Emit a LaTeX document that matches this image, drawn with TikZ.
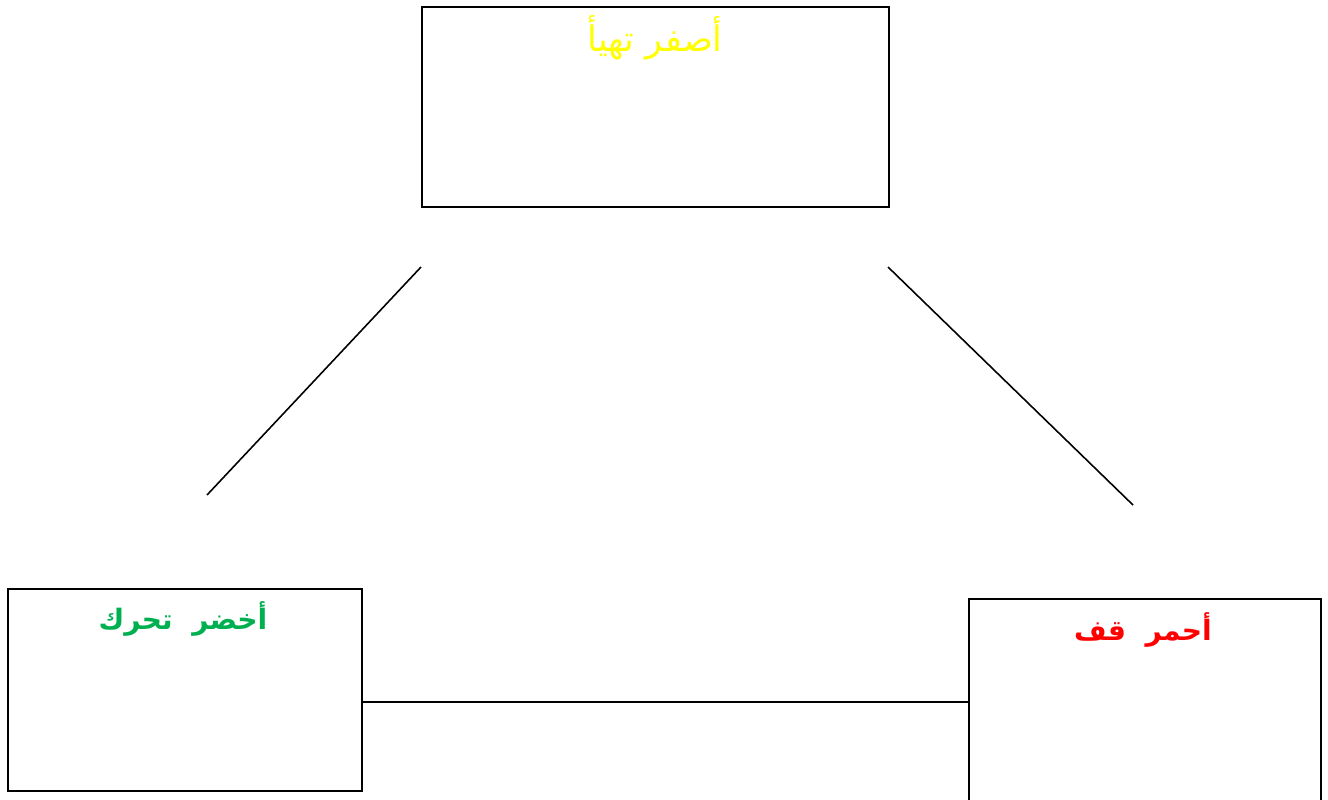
\documentclass[tikz,border=0pt]{standalone}
\usepackage{fontspec}
\usepackage{xcolor}
\usepackage{tikz}
\usetikzlibrary{positioning, calc}
\TeXXeTstate=1
\newfontfamily\arabicfont[Script=Arabic]{DejaVu Sans}
\definecolor{lightyellow}{RGB}{255, 255, 0}
\definecolor{lightgreen}{RGB}{0, 176, 80}
\definecolor{lightred}{RGB}{255, 0, 0}
\tikzset{
  lightbox/.style={
    rectangle, draw=black, line width=1pt, fill=white,
    anchor=north west, inner sep=0pt
  },
  lighttext/.style={
    anchor=center, inner sep=1pt, font=\arabicfont\fontsize{20}{24}\selectfont
  },
  boldtext/.style={
    lighttext, font=\arabicfont\bfseries\fontsize{16}{19}\selectfont
  },
  linkline/.style={draw=black, line width=0.9pt}
}

\begin{document}
\begin{tikzpicture}[x=0.02cm, y=-0.02cm]

  % Page frame
  \clip (0,0) rectangle (1328,799);

  % Light boxes
  \node[lightbox, minimum width=9.34cm, minimum height=4cm] (yellowbox) at (421,6) {};
  \node[lightbox, minimum width=7.08cm, minimum height=4.04cm] (greenbox) at (7,588) {};
  \node[lightbox, minimum width=7.04cm, minimum height=4.8cm] (redbox) at (968,598) {};

  % Labels
  \node[lighttext, text=lightyellow] (yellowlabel) at (655,38) {\beginR أصفر تهيأ\endR};
  \node[boldtext, text=lightgreen] (greenlabel) at (183,619) {\beginR أخضر\ \ تحرك\endR};
  \node[boldtext, text=lightred] (redlabel) at (1143,630) {\beginR أحمر\ \ قف\endR};

  % Free line ends
  \coordinate (yl_top) at (421,267);
  \coordinate (yl_bot) at (207,495);
  \coordinate (yr_top) at (888,267);
  \coordinate (yr_bot) at (1133,505);

  % Links
  \draw[linkline] (yl_top) -- (yl_bot);
  \draw[linkline] (yr_top) -- (yr_bot);
  \draw[linkline] (greenbox.east |- 0,702) -- (redbox.west |- 0,702);

\end{tikzpicture}
\end{document}
